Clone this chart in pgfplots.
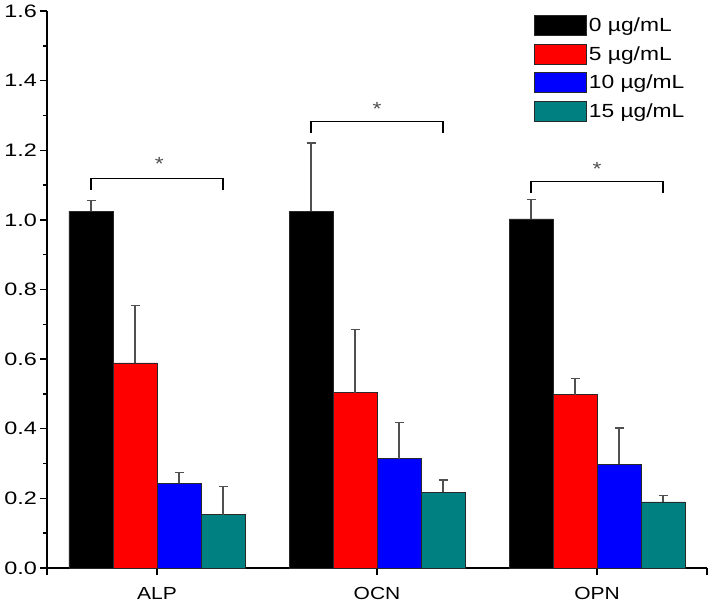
\documentclass[border=0pt]{standalone}
\usepackage{pgfplots}
\pgfplotsset{compat=1.18}
\usepackage{fontspec}
\setmainfont{Liberation Sans}[FakeStretch=1.2]
\newfontfamily\ylabfont{Liberation Sans}[FakeStretch=1.3]
\definecolor{tealb}{RGB}{0,128,128}
\definecolor{errgray}{RGB}{80,80,80}
\definecolor{edge}{RGB}{40,40,40}
\pgfplotstableread{
x y e
1 1.025 0.031
2 1.025 0.196
3 1.003 0.056
}\szero
\pgfplotstableread{
x y e
1 0.589 0.166
2 0.504 0.181
3 0.498 0.046
}\sfive
\pgfplotstableread{
x y e
1 0.243 0.032
2 0.314 0.105
3 0.298 0.104
}\sten
\pgfplotstableread{
x y e
1 0.153 0.082
2 0.217 0.036
3 0.190 0.019
}\sfifteen
\pgfplotsset{myerr/.style={error bars/.cd, y dir=plus, y explicit,
  error bar style={line width=1.2pt, errgray},
  error mark options={rotate=90, line width=1.2pt, errgray, mark size=4.5pt}}}
\begin{document}
\begin{tikzpicture}
\begin{axis}[
  name=ax,
  scale only axis, width=660pt, height=557pt,
  xmin=0.5, xmax=3.5, ymin=0, ymax=1.6,
  axis x line*=bottom, axis y line*=left,
  axis line style={line width=1.4pt,-},
  xtick={0.5,1,2,3,3.5}, xticklabels={,ALP,OCN,OPN,},
  ytick={0,0.2,0.4,0.6,0.8,1.0,1.2,1.4,1.6},
  yticklabels={0.0,0.2,0.4,0.6,0.8,1.0,1.2,1.4,1.6},
  minor y tick num=1,
  tick align=outside,
  major tick length=7pt, minor tick length=4pt,
  tick style={line width=1.4pt, black},
  yticklabel style={font=\ylabfont\fontsize{18}{20}\selectfont, inner sep=3pt},
  xticklabel style={font=\fontsize{17.5}{20}\selectfont, inner sep=4pt, yshift=-8pt},
  ybar, bar width=0.2,
  clip=false,
  legend style={at={(0.738,0.993)}, anchor=north west, draw=none, fill=none,
    inner sep=0pt, row sep=8pt, font=\fontsize{19}{20}\selectfont,
    nodes={inner sep=2pt}},
  legend cell align=left,
  legend image code/.code={\draw[#1] (0pt,-10pt) rectangle (52pt,10pt);},
]
\addplot[fill=black, draw=edge, line width=0.6pt, bar shift=-0.3, myerr] table[x=x,y=y,y error=e]{\szero};
\addplot[fill=red, draw=edge, line width=0.6pt, bar shift=-0.1, myerr] table[x=x,y=y,y error=e]{\sfive};
\addplot[fill=blue, draw=edge, line width=0.6pt, bar shift=0.1, myerr] table[x=x,y=y,y error=e]{\sten};
\addplot[fill=tealb, draw=edge, line width=0.6pt, bar shift=0.3, myerr] table[x=x,y=y,y error=e]{\sfifteen};
\legend{0 µg/mL, 5 µg/mL, 10 µg/mL, 15 µg/mL}
\draw[line width=1.4pt] (axis cs:0.7,1.086) -- (axis cs:0.7,1.119) -- (axis cs:1.3,1.119) -- (axis cs:1.3,1.086);
\draw[line width=1.4pt] (axis cs:1.7,1.249) -- (axis cs:1.7,1.283) -- (axis cs:2.3,1.283) -- (axis cs:2.3,1.249);
\draw[line width=1.4pt] (axis cs:2.7,1.078) -- (axis cs:2.7,1.110) -- (axis cs:3.3,1.110) -- (axis cs:3.3,1.078);
\node[font=\fontsize{19}{20}\selectfont, text=errgray, inner sep=0pt] at (axis cs:1.01,1.162) {*};
\node[font=\fontsize{19}{20}\selectfont, text=errgray, inner sep=0pt] at (axis cs:2.0,1.319) {*};
\node[font=\fontsize{19}{20}\selectfont, text=errgray, inner sep=0pt] at (axis cs:3.0,1.145) {*};
\end{axis}
\pgfresetboundingbox
\path ([shift={(-47pt,-36pt)}]ax.south west) rectangle ([shift={(2pt,11pt)}]ax.north east);
\end{tikzpicture}
\end{document}
